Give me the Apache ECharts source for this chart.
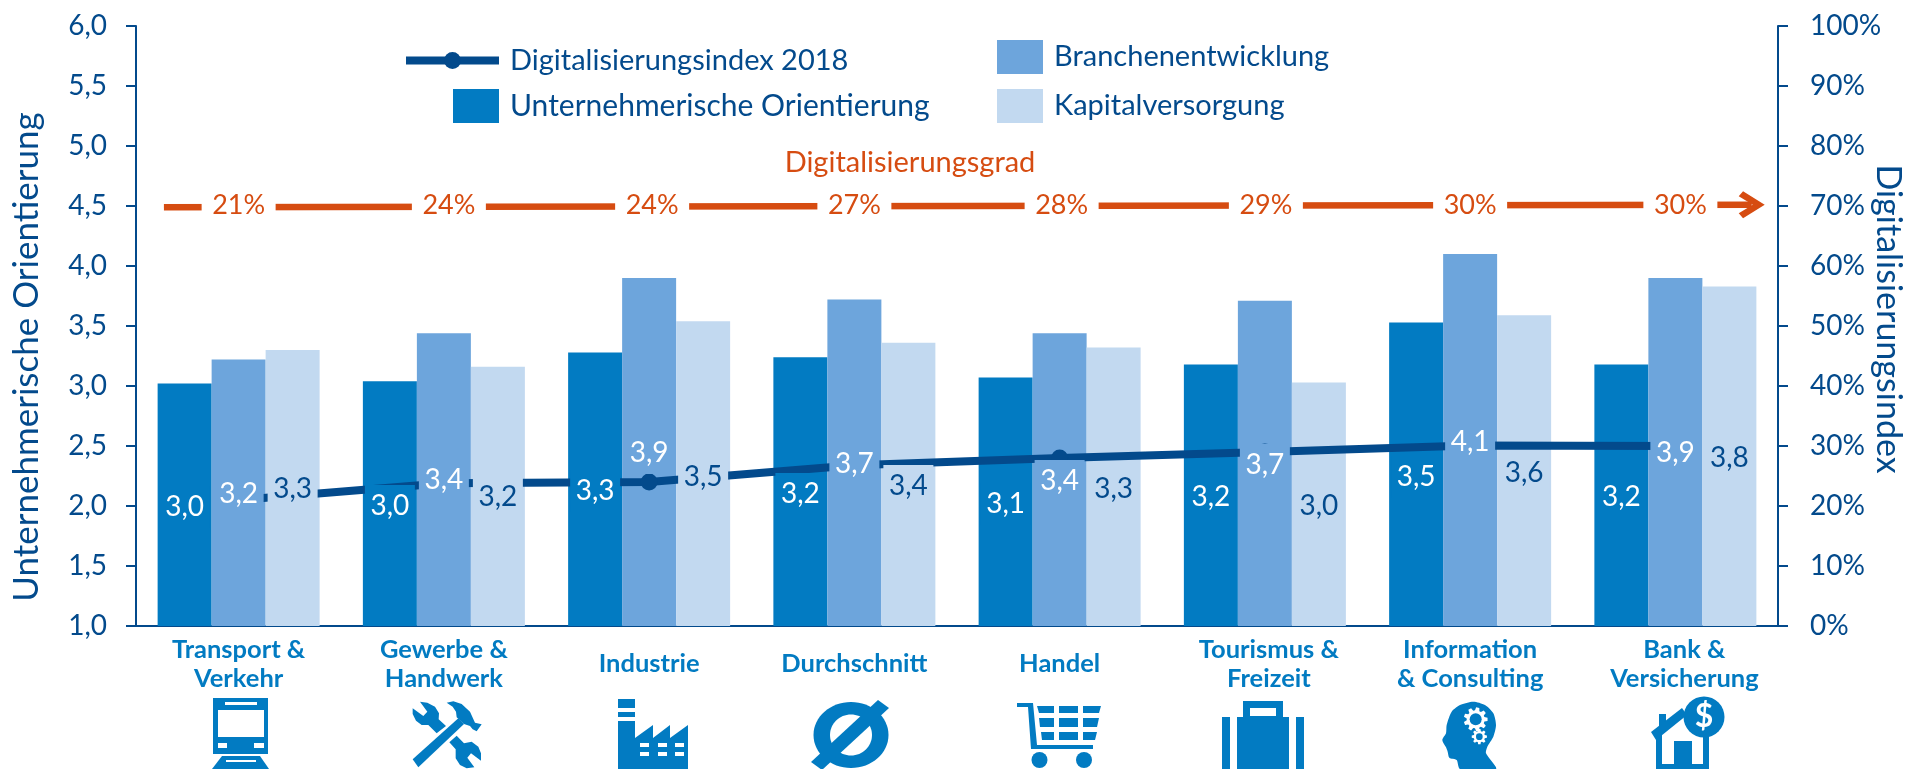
<!DOCTYPE html>
<html><head><meta charset="utf-8">
<style>html,body{margin:0;padding:0;background:#fff;overflow:hidden}#c{width:1908px;height:769px}</style>
<script src="https://cdn.jsdelivr.net/npm/echarts@6/dist/echarts.min.js"></script>
</head><body><div id="c"></div>
<script>
const categories = ['Transport &\nVerkehr','Gewerbe &\nHandwerk','Industrie','Durchschnitt','Handel','Tourismus &\nFreizeit','Information\n& Consulting','Bank &\nVersicherung'];
const orientierung = [3.02,3.04,3.28,3.24,3.07,3.18,3.53,3.18];
const branche = [3.22,3.44,3.90,3.72,3.44,3.71,4.10,3.90];
const kapital = [3.30,3.16,3.54,3.36,3.32,3.03,3.59,3.83];
const index2018 = [21,23.8,24,26.8,28,29,30.1,30];
const grad = [21,24,24,27,28,29,30,30];
const leftTicks = {min:1,max:6,interval:0.5};
const rightTicks = {min:0,max:100,interval:10};

/* label centres (page y) of the value labels, kept apart from the data */
const labelCentreO = [507,506,491,494,504,497,477,497];
const labelCentreB = [494,480,453,464,481,465,442,453];
const labelCentreK = [489,497,477,486,489,506,473,458];
const gradShift = [0,5,3,0,2,1,0,5];
const categoryPad = [0,0,0,0,0,8,0,18];

const DARK='#034a8c', BLUE='#027bc2', MID='#6da5dc', LIGHT='#c2d9f0', ORANGE='#d64c11';
const FONT='Lato';
const GRID={left:136,right:130,top:26,bottom:143,outerBoundsMode:'none'};
const PX=120, BASE=769-GRID.bottom;
const fmt=v=>v.toFixed(1).replace('.',',');

function barSeries(name,vals,color){
  return {name,type:'bar',barWidth:54,barGap:0,xAxisIndex:0,yAxisIndex:0,z:1,itemStyle:{color},data:vals};
}
function labelSeries(name,vals,centres,color,textColor){
  return {name,type:'bar',barWidth:54,barGap:0,xAxisIndex:2,yAxisIndex:0,z:5,silent:true,
    itemStyle:{color:'rgba(0,0,0,0)'},
    data:vals.map((v,i)=>({value:v,label:{position:['50%',centres[i]-(BASE-(v-1)*PX)]}})),
    label:{show:true,align:'center',verticalAlign:'middle',formatter:p=>fmt(p.value),
      color:textColor,fontFamily:FONT,fontSize:28,backgroundColor:color,width:50,height:42,lineHeight:42}};
}

const iconFill={fill:BLUE};
const white={fill:'#fff'};
function R(x,y,w,h,st){return {type:'rect',shape:{x,y,width:w,height:h},style:st||iconFill};}
function P(points,st){return {type:'polygon',shape:{points},style:st||iconFill};}
function C(cx,cy,r,st){return {type:'circle',shape:{cx,cy,r},style:st||iconFill};}
function E(cx,cy,rx,ry,st){return {type:'ellipse',shape:{cx,cy,rx,ry},style:st||iconFill};}
function gear(cx,cy,ro,ri,hole,n){
  const pts=[];
  for(let i=0;i<n;i++){
    const a=i/n*Math.PI*2,w=Math.PI/n*0.55;
    pts.push([cx+ri*Math.cos(a-w*1.3),cy+ri*Math.sin(a-w*1.3)]);
    pts.push([cx+ro*Math.cos(a-w*0.7),cy+ro*Math.sin(a-w*0.7)]);
    pts.push([cx+ro*Math.cos(a+w*0.7),cy+ro*Math.sin(a+w*0.7)]);
    pts.push([cx+ri*Math.cos(a+w*1.3),cy+ri*Math.sin(a+w*1.3)]);
  }
  return [P(pts,white),C(cx,cy,hole)];
}
const train=[R(213,698,55,56),R(225,702,32,3,white),R(218,710,46,27,white),R(218,743,9,5,white),R(254,743,10,5,white),
  P([[222,756],[260,756],[269,769],[212,769]]),R(226,760,30,2,white)];
const tools=[
  {type:'group',x:390,y:690,scaleX:1/3,scaleY:1/3,children:[
    P([[68,208],[205,85],[222,102],[85,232]]),
    P([[90,35],[112,38],[135,50],[147,70],[146,88],[168,108],[140,130],[115,105],[95,105],[78,92],[68,72],[68,55],[100,78],[112,65]]),
    P([[178,157],[200,137],[222,160],[245,155],[265,170],[273,190],[273,212],[243,190],[232,203],[253,232],[230,235],[210,225],[197,205],[197,178]]),
    P([[170,38],[190,34],[215,42],[240,65],[255,98],[275,103],[260,124],[248,118],[240,108],[222,102],[200,82],[198,65],[188,50]])
  ]}];
const factory=[R(618,699,17,9),R(618,712,17,5),
  P([[618,721],[635,721],[635,738],[653,725],[653,738],[670,725],[670,738],[688,725],[688,769],[618,769]]),
  ...[640,658,675].flatMap(x=>[R(x,743,9,4,white),R(x,752,9,4,white)])];
const avg=[E(851,735,37.5,33),E(851,735,21,20.5,white),
  P([[878,700],[889,708],[822,770],[811,762]])];
const cart=[P([[1017,703],[1033,703],[1037,745],[1093,745],[1093,749],[1031,749],[1028,707],[1017,707]]),C(1039.5,760,8),C(1084,760,8),
  P([[1037,706],[1054,706],[1054,713],[1039,713]]),R(1059,706,19,7),P([[1083,706],[1101,706],[1099,713],[1083,713]]),
  P([[1039,718],[1054,718],[1054,727],[1040,727]]),R(1059,718,19,9),P([[1083,718],[1099,718],[1097,727],[1083,727]]),
  P([[1041,732],[1054,732],[1054,740],[1042,740]]),R(1059,732,19,8),P([[1083,732],[1097,732],[1095,740],[1083,740]])];
const suitcase=[R(1222,717,8,52),R(1237,717,52,52),R(1296,717,8,52),R(1243,701,40,16),R(1250,708,26,8,white)];
const head=[{type:'group',x:1410,y:690,scaleX:1/3,scaleY:1/3,children:[
  {type:'polygon',shape:{smooth:0.25,points:[[150,237],[140,210],[118,203],[113,185],[108,172],[97,150],[108,130],[110,105],[125,65],[150,45],[190,35],[225,45],[250,70],[258,105],[250,140],[232,170],[228,190],[258,237]]},style:iconFill},
  ...gear(197,88,36,27,18,9),...gear(208,140,23,17,10,8)
]}];
const bank=[R(1656,735,6,34),R(1703,735,6,34),R(1656,764,53,5),R(1674,741,18,28),R(1659,714,7,18),
  P([[1651,732],[1682,708],[1687,715],[1656,740]]),
  C(1704,717,20.5),
  {type:'text',x:1704,y:717,style:{text:'$',fill:'#fff',fontFamily:FONT,fontWeight:'bold',fontSize:32,align:'center',verticalAlign:'middle'}}];

const legendText=size=>({color:DARK,fontFamily:FONT,fontSize:size,padding:[0,0,0,6]});
const option={
  animation:false,backgroundColor:'#fff',
  textStyle:{fontFamily:FONT},
  grid:GRID,
  legend:[
    {data:['Digitalisierungsindex 2018'],left:402,top:46,itemWidth:93,itemHeight:21,padding:0,lineStyle:{width:8},textStyle:legendText(29)},
    {data:['Unternehmerische Orientierung'],icon:'rect',left:453,top:89,itemWidth:46,itemHeight:34,padding:0,textStyle:legendText(30)},
    {data:['Branchenentwicklung','Kapitalversorgung'],icon:'rect',orient:'vertical',left:997,top:40,itemWidth:46,itemHeight:34,itemGap:15,padding:0,textStyle:legendText(29)}
  ],
  xAxis:[
    {type:'category',data:categories.map((c,i)=>({value:c,textStyle:{padding:[0,0,0,categoryPad[i]],verticalAlign:'middle',align:'center',lineHeight:29}})),boundaryGap:true,
      axisLine:{lineStyle:{color:DARK,width:2}},axisTick:{show:false},
      axisLabel:{color:BLUE,fontFamily:FONT,fontWeight:'bold',fontSize:25.5,lineHeight:29,margin:38,verticalAlign:'middle',align:'center',interval:0}},
    {type:'value',min:0,max:1,show:false},
    {type:'category',data:categories,boundaryGap:true,show:false}
  ],
  yAxis:[
    {type:'value',min:leftTicks.min,max:leftTicks.max,interval:leftTicks.interval,splitLine:{show:false},
      axisLine:{show:true,lineStyle:{color:DARK,width:2}},axisTick:{show:true,length:10,lineStyle:{color:DARK,width:2}},
      axisLabel:{color:DARK,fontFamily:FONT,fontSize:28,margin:29,formatter:v=>fmt(v)},
      name:'Unternehmerische Orientierung',nameLocation:'middle',nameRotate:90,nameGap:92,nameMoveOverlap:false,
      nameTextStyle:{color:DARK,fontFamily:FONT,fontSize:35,padding:[0,62,0,0]}},
    {type:'value',min:rightTicks.min,max:rightTicks.max,interval:rightTicks.interval,position:'right',splitLine:{show:false},
      axisLine:{show:true,lineStyle:{color:DARK,width:2}},axisTick:{show:true,length:10,lineStyle:{color:DARK,width:2}},
      axisLabel:{color:DARK,fontFamily:FONT,fontSize:28,margin:32,formatter:v=>v+'%'},
      name:'Digitalisierungsindex',nameLocation:'middle',nameRotate:-90,nameGap:93,nameMoveOverlap:false,
      nameTextStyle:{color:DARK,fontFamily:FONT,fontSize:34,padding:[0,14,0,0]}}
  ],
  series:[
    barSeries('Unternehmerische Orientierung',orientierung,BLUE),
    barSeries('Branchenentwicklung',branche,MID),
    barSeries('Kapitalversorgung',kapital,LIGHT),
    {name:'Digitalisierungsindex 2018',type:'line',xAxisIndex:0,yAxisIndex:1,z:3,data:index2018,
      symbol:'circle',symbolSize:17,showAllSymbol:true,lineStyle:{color:DARK,width:8},itemStyle:{color:DARK}},
    labelSeries('Werte Orientierung',orientierung,labelCentreO,BLUE,'#fff'),
    labelSeries('Werte Branche',branche,labelCentreB,MID,'#fff'),
    labelSeries('Werte Kapital',kapital,labelCentreK,LIGHT,DARK),
    {name:'Pfeil',type:'line',xAxisIndex:1,yAxisIndex:0,showSymbol:true,symbol:'none',silent:true,
      lineStyle:{color:ORANGE,width:6.5},
      data:[{value:[0.017,4.49]},{value:[0.984,4.51],symbol:'path://M6,0 L26,13.5 L6,27 L2,22 L15,13.5 L2,5 Z',symbolSize:[26,27],itemStyle:{color:ORANGE}}]},
    {name:'Digitalisierungsgrad',type:'line',xAxisIndex:0,yAxisIndex:0,symbol:'none',showSymbol:true,lineStyle:{opacity:0},
      data:grad.map((g,i)=>({value:4.51,symbol:'circle',symbolSize:0,label:{offset:[gradShift[i],0],formatter:g+'%'}})),
      label:{show:true,position:'inside',color:ORANGE,fontFamily:FONT,fontSize:27,backgroundColor:'#fff',width:74,height:36,lineHeight:36,align:'center',verticalAlign:'middle'}}
  ],
  graphic:{elements:[
    {type:'text',x:910,y:163,style:{text:'Digitalisierungsgrad',fill:ORANGE,fontFamily:FONT,fontSize:29,align:'center',verticalAlign:'middle'}},
    ...train,...tools,...factory,...avg,...cart,...suitcase,...head,...bank
  ]}
};
const chart=echarts.init(document.getElementById('c'),null,{renderer:'canvas'});
chart.setOption(option);
</script></body></html>
